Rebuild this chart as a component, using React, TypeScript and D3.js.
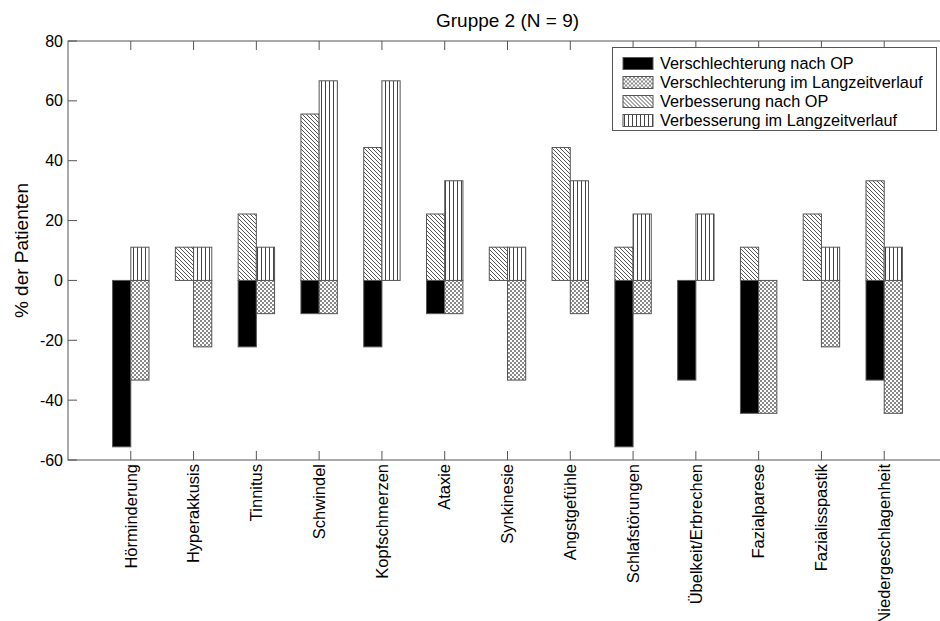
import React from 'react';
import * as d3 from 'd3';

const categories = [
  'Hörminderung', 'Hyperakkusis', 'Tinnitus', 'Schwindel', 'Kopfschmerzen', 'Ataxie',
  'Synkinesie', 'Angstgefühle', 'Schlafstörungen', 'Übelkeit/Erbrechen', 'Fazialparese',
  'Fazialisspastik', 'Niedergeschlagenheit',
];
// values in % of patients (N = 9)
const verschlechterungOP = [-55.6, 0, -22.2, -11.1, -22.2, -11.1, 0, 0, -55.6, -33.3, -44.4, 0, -33.3];
const verschlechterungLZ = [-33.3, -22.2, -11.1, -11.1, 0, -11.1, -33.3, -11.1, -11.1, 0, -44.4, -22.2, -44.4];
const verbesserungOP = [0, 11.1, 22.2, 55.6, 44.4, 22.2, 11.1, 44.4, 11.1, 0, 11.1, 22.2, 33.3];
const verbesserungLZ = [11.1, 11.1, 11.1, 66.7, 66.7, 33.3, 11.1, 33.3, 22.2, 22.2, 0, 11.1, 11.1];
const yTicks = [-60, -40, -20, 0, 20, 40, 60, 80];
const legendLabels = [
  'Verschlechterung nach OP',
  'Verschlechterung im Langzeitverlauf',
  'Verbesserung nach OP',
  'Verbesserung im Langzeitverlauf',
];

const W = 940;
const H = 621;
const font = '"Liberation Sans", Arial, sans-serif';
const axisColor = '#555';
const fills = ['#000', 'url(#cross)', 'url(#diag)', 'url(#vert)'];

export default function App() {
  const x = d3.scaleLinear().domain([0, categories.length + 1]).range([68, 947]);
  const y = d3.scaleLinear().domain([-60, 80]).range([460, 41]);
  const bw = (x(1) - x(0)) * 0.29;

  const series = [
    { vals: verschlechterungOP, side: -1, fill: fills[0] },
    { vals: verschlechterungLZ, side: 0, fill: fills[1] },
    { vals: verbesserungOP, side: -1, fill: fills[2] },
    { vals: verbesserungLZ, side: 0, fill: fills[3] },
  ];

  const y0 = y(0);

  return (
    <svg width={W} height={H} style={{ position: 'absolute', left: 0, top: 0, background: '#fff' }} fontFamily={font}>
      <defs>
        <pattern id="cross" width="4" height="4" patternUnits="userSpaceOnUse">
          <rect width="4" height="4" fill="#fff" />
          <rect width="2" height="2" fill="#8a8a8a" />
          <rect x="2" y="2" width="2" height="2" fill="#8a8a8a" />
        </pattern>
        <pattern id="diag" width="4" height="4" patternUnits="userSpaceOnUse">
          <rect width="4" height="4" fill="#fff" />
          <path d="M-1,-1 L5,5 M-1,3 L1,5 M3,-1 L5,1" stroke="#555" strokeWidth="1" />
        </pattern>
        <pattern id="vert" width="4" height="4" patternUnits="userSpaceOnUse">
          <rect width="4" height="4" fill="#fff" />
          <line x1="1.5" y1="0" x2="1.5" y2="4" stroke="#444" strokeWidth="1" />
        </pattern>
      </defs>

      <text x={(x(0) + x(categories.length + 1)) / 2} y={27} textAnchor="middle" fontSize={19}>
        Gruppe 2 (N = 9)
      </text>

      {/* bars */}
      {series.map((s, si) => (
        <g key={si}>
          {s.vals.map((v, i) => {
            if (v === 0) return null;
            const cx = x(i + 1);
            const top = Math.min(y(v), y0);
            return (
              <rect
                key={i}
                x={cx + s.side * bw}
                y={top}
                width={bw}
                height={Math.abs(y(v) - y0)}
                fill={s.fill}
                stroke="#555"
                strokeWidth={1}
              />
            );
          })}
        </g>
      ))}

      {/* frame */}
      <rect x={x(0)} y={y(80)} width={x(categories.length + 1) - x(0)} height={y(-60) - y(80)} fill="none" stroke={axisColor} strokeWidth={1} />

      {/* y axis */}
      {yTicks.map(t => (
        <g key={t}>
          <line x1={x(0)} x2={x(0) + 9} y1={y(t)} y2={y(t)} stroke={axisColor} />
          <text x={x(0) - 5} y={y(t)} dy="0.35em" textAnchor="end" fontSize={16}>
            {t}
          </text>
        </g>
      ))}

      {/* x axis */}
      {categories.map((c, i) => {
        const cx = x(i + 1);
        return (
          <g key={c}>
            <line x1={cx} x2={cx} y1={y(-60)} y2={y(-60) - 9} stroke={axisColor} />
            <line x1={cx} x2={cx} y1={y(80)} y2={y(80) + 9} stroke={axisColor} />
            <text
              transform={`translate(${cx},${y(-60) + 4}) rotate(-90)`}
              dy="0.35em"
              textAnchor="end"
              fontSize={16.5}
            >
              {c}
            </text>
          </g>
        );
      })}

      <text transform={`translate(21,${(y(80) + y(-60)) / 2}) rotate(-90)`} textAnchor="middle" dy="0.35em" fontSize={19}>
        % der Patienten
      </text>

      {/* legend */}
      <g>
        <rect x={612.5} y={47.5} width={324} height={83} fill="#fff" stroke={axisColor} />
        {legendLabels.map((l, i) => (
          <g key={l} transform={`translate(623,${63.5 + i * 19})`}>
            <rect x={0} y={-6} width={30} height={12} fill={fills[i]} stroke="#555" />
            <text x={37} y={0} dy="0.35em" fontSize={16.3}>
              {l}
            </text>
          </g>
        ))}
      </g>
    </svg>
  );
}
